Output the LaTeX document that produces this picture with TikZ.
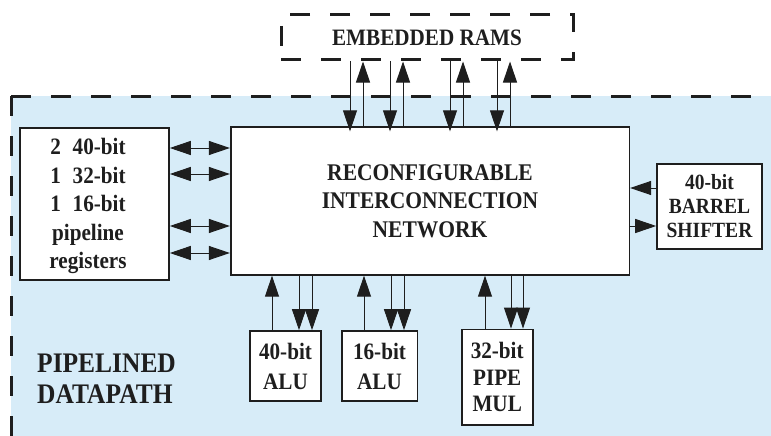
\documentclass[tikz,border=0pt]{standalone}
\usepackage{fontspec}
\setmainfont{Liberation Serif}[FakeStretch=0.9]
\usetikzlibrary{arrows.meta}
\definecolor{dpblue}{RGB}{215,236,248}
\definecolor{ink}{RGB}{30,30,30}
\begin{document}
\begin{tikzpicture}[x=1pt,y=-1pt,
  >={Triangle[length=21pt,width=14pt]},
  box/.style={draw=ink, line width=1.6pt, fill=white, inner sep=0pt, align=center,
              text=ink, font=\bfseries\fontsize{23.5}{28.5}\selectfont},
  bigdash/.style={draw=ink, line width=3pt, dash pattern=on 20pt off 20pt},
  wire/.style={draw=ink, line width=1pt},
  txt/.style={inner sep=0pt, align=center, text=ink, font=\bfseries\fontsize{23.5}{28.5}\selectfont}]
\useasboundingbox (0,0) rectangle (771,436);

% datapath area
\fill[dpblue] (11,96) rectangle (771,436);
\draw[bigdash] (11,96) -- (771,96);
\draw[bigdash] (11,96) -- (11,436);

% blocks
\node[bigdash, inner sep=0pt, minimum width=292pt, minimum height=45pt, text=ink,
      font=\bfseries\fontsize{23.5}{28.5}\selectfont] (rams) at (427,37.5) {EMBEDDED RAMS};
\node[box, font=\bfseries\fontsize{23.9}{28.5}\selectfont, minimum width=398.6pt, minimum height=147.7pt]
  (net) at (430,201) {RECONFIGURABLE\\INTERCONNECTION\\NETWORK};
\node[box, minimum width=149pt, minimum height=152pt] (regs) at (94.5,204) {};
\node[txt] (regtext) at (88,206.1)
  {2\hspace{0.5em}40-bit\\1\hspace{0.5em}32-bit\\1\hspace{0.5em}16-bit\\pipeline\\registers};
\node[box, font=\bfseries\fontsize{21.7}{24}\selectfont, minimum width=105pt, minimum height=85pt]
  (shifter) at (709.5,206.5) {40-bit\\BARREL\\SHIFTER};
\node[box, font=\bfseries\fontsize{23.5}{30}\selectfont, minimum width=71pt, minimum height=70pt]
  (alu40) at (285.5,366) {40-bit\\ALU};
\node[box, font=\bfseries\fontsize{23.5}{30}\selectfont, minimum width=75.6pt, minimum height=70pt]
  (alu16) at (379.5,366) {16-bit\\ALU};
\node[box, font=\bfseries\fontsize{23.5}{26.5}\selectfont, minimum width=71pt, minimum height=95.7pt]
  (mul) at (497.2,377.2) {32-bit\\PIPE\\MUL};
\node[txt, anchor=north west, align=left, font=\bfseries\fontsize{28.3}{31}\selectfont]
  (dplabel) at (37,353.4) {PIPELINED\\DATAPATH};

% memory ports
\foreach \x in {350,390,450,497}
  \draw[wire,->,shorten >=-5pt] (rams.south -| \x,0) -- (net.north -| \x,0);
\foreach \x in {363,403,463,510}
  \draw[wire,->] (net.north -| \x,0) -- (rams.south -| \x,0);

% pipeline registers
\foreach \y in {148,174,226,253}
  \draw[wire,<->] (regs.east |- 0,\y) -- (net.west |- 0,\y);

% barrel shifter
\draw[wire,->] (shifter.west |- 0,188) -- (net.east |- 0,188);
\draw[wire,->] (net.east |- 0,226) -- (shifter.west |- 0,226);

% functional units
\draw[wire,->] (alu40.north -| 272,0) -- (net.south -| 272,0);
\foreach \x in {299,312}
  \draw[wire,->] (net.south -| \x,0) -- (alu40.north -| \x,0);
\draw[wire,->] (alu16.north -| 364,0) -- (net.south -| 364,0);
\foreach \x in {391,404}
  \draw[wire,->] (net.south -| \x,0) -- (alu16.north -| \x,0);
\draw[wire,->] (mul.north -| 485,0) -- (net.south -| 485,0);
\foreach \x in {511,523}
  \draw[wire,->] (net.south -| \x,0) -- (mul.north -| \x,0);
\end{tikzpicture}
\end{document}
